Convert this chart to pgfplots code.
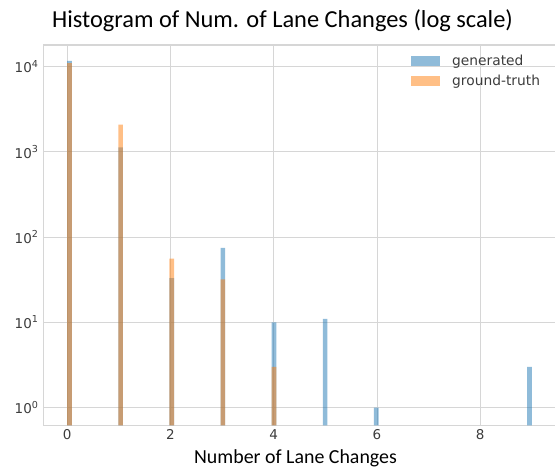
\documentclass[border=0pt]{standalone}
\usepackage{fontspec}
\setmainfont{Carlito}
\newfontfamily\dejavu{DejaVu Sans}
\usepackage{pgfplots}
\pgfplotsset{compat=1.18}

\definecolor{tabblue}{HTML}{1F77B4}
\definecolor{taborange}{HTML}{FF7F0E}
\definecolor{gridgray}{HTML}{D6D6D6}
\definecolor{ticktext}{HTML}{3C3C3C}

% power-of-ten tick label set in the text font
\newcommand{\pw}[1]{10\raisebox{0.42em}{\fontsize{9.6}{10}\selectfont #1}}

\begin{document}
\begin{tikzpicture}
\path[use as bounding box] (-43.5pt,-47.7pt) rectangle (511.5pt,425.3pt);
\begin{axis}[
  at={(0pt,0pt)}, anchor=south west,
  scale only axis,
  width=512.8pt, height=380.3pt,
  xmin=-0.46, xmax=9.474,
  ymode=log, ymin=0.62, ymax=17950,
  log origin y=infty,
  xtick={0,2,4,6,8},
  xticklabels={0,2,4,6,8},
  ytick={1,10,100,1000,10000},
  yticklabels={\pw{0},\pw{1},\pw{2},\pw{3},\pw{4}},
  minor ytick={},
  major tick length=0pt, minor tick length=0pt,
  tick style={draw=none},
  ticklabel style={font=\dejavu\fontsize{13.5}{15}\selectfont, text=ticktext},
  xticklabel style={yshift=-1pt},
  yticklabel style={xshift=-2pt},
  grid=major,
  grid style={draw=gridgray, line width=0.9pt},
  axis line style={draw=gridgray, line width=1.3pt},
  ybar, bar width=0.09, bar shift=0pt,
  legend image code/.code={\fill[#1] (0pt,-4.85pt) rectangle (28.6pt,4.85pt);},
  legend cell align=left,
  legend style={draw=none, fill=none, inner sep=0pt,
    nodes={inner sep=0pt, text=ticktext, font=\dejavu\fontsize{13.8}{15}\selectfont},
    column sep=12.7pt, row sep=7.6pt,
    at={(367.2pt,352.5pt)}, anchor=north west},
]
\addplot[draw=none, fill=tabblue, fill opacity=0.5] coordinates {
  (0.045,11700) (1.035,1130) (2.025,33) (3.015,75)
  (4.005,10) (4.995,11) (5.985,1) (8.955,3)
};
\addlegendentry{generated}
\addplot[draw=none, fill=taborange, fill opacity=0.5] coordinates {
  (0.045,11000) (1.035,2090) (2.025,56) (3.015,32) (4.005,3)
};
\addlegendentry{ground-truth}
\end{axis}
\node[anchor=base, font=\fontsize{24.4}{28}\selectfont] at (239pt,398pt)
  {Histogram of Num. of Lane Changes (log scale)};
\node[anchor=base, font=\fontsize{19.9}{24}\selectfont] at (252pt,-38.7pt)
  {Number of Lane Changes};
\end{tikzpicture}
\end{document}
